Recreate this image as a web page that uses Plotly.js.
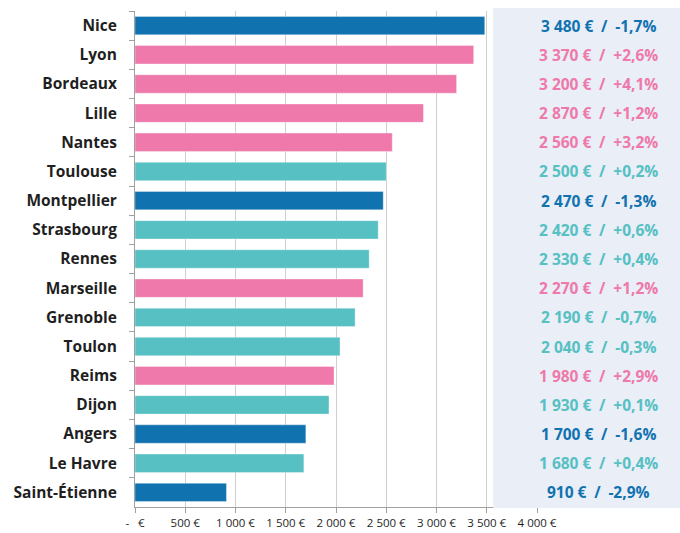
<!DOCTYPE html>
<html><head><meta charset="utf-8">
<script src="https://cdn.plot.ly/plotly-3.0.1.min.js"></script>
<style>html,body{margin:0;padding:0;background:#fff;}#chart{width:680px;height:533px;}</style>
</head><body><div id="chart"></div>
<script>
const cities = ["Nice","Lyon","Bordeaux","Lille","Nantes","Toulouse","Montpellier","Strasbourg","Rennes","Marseille","Grenoble","Toulon","Reims","Dijon","Angers","Le Havre","Saint-Étienne"];
const prices = [3480,3370,3200,2870,2560,2500,2470,2420,2330,2270,2190,2040,1980,1930,1700,1680,910];
const changes = ["-1,7%","+2,6%","+4,1%","+1,2%","+3,2%","+0,2%","-1,3%","+0,6%","+0,4%","+1,2%","-0,7%","-0,3%","+2,9%","+0,1%","-1,6%","+0,4%","-2,9%"];
const priceLabels = ["3 480 €","3 370 €","3 200 €","2 870 €","2 560 €","2 500 €","2 470 €","2 420 €","2 330 €","2 270 €","2 190 €","2 040 €","1 980 €","1 930 €","1 700 €","1 680 €","910 €"];
const groups = ["down","up","up","up","up","flat","down","flat","flat","up","flat","flat","up","flat","down","flat","down"];
const tickVals = [0,500,1000,1500,2000,2500,3000,3500,4000];
const tickText = ["-\u00a0\u00a0\u00a0€","500 €","1 000 €","1 500 €","2 000 €","2 500 €","3 000 €","3 500 €","4 000 €"];

const palette = {down:"#1172b0", up:"#ee79aa", flat:"#56c0c3"};
const colors = groups.map(g => palette[g]);

const trace = {
  type:"bar", orientation:"h", x:prices, y:cities,
  marker:{color:colors, line:{color:"rgba(255,255,255,0.35)", width:1}},
  hoverinfo:"none"
};

const annotations = cities.map((c,i)=>({
  xref:"paper", yref:"y", x:1.152, y:c, xanchor:"center", yanchor:"middle",
  text: priceLabels[i] + "\u2002/\u2002" + changes[i], showarrow:false,
  font:{family:"'Open Sans', sans-serif", size:15.5, color:colors[i], weight:"bold"}
}));

const layout = {
  width:680, height:533,
  margin:{l:135, r:143, t:11, b:26},
  paper_bgcolor:"#ffffff", plot_bgcolor:"#ffffff",
  showlegend:false, bargap:0.37,
  font:{family:"'Open Sans', sans-serif", color:"#1f1f1f"},
  xaxis:{range:[0,4000], tickvals:tickVals, ticktext:tickText, showgrid:true, gridcolor:"#cfcfcf", gridwidth:1,
    showline:true, linecolor:"#a0a0a0", ticks:"outside", ticklen:5, tickcolor:"#a0a0a0",
    tickfont:{size:11.5, color:"#1f1f1f"}, zeroline:false, fixedrange:true},
  yaxis:{autorange:"reversed", type:"category", showline:true, linecolor:"#a0a0a0", ticks:"outside", ticklen:5,
    tickcolor:"#a0a0a0", tickson:"boundaries", showgrid:false, ticklabelstandoff:14,
    tickfont:{size:15.5, color:"#1f1f1f", weight:"bold"}, fixedrange:true},
  shapes:[{type:"rect", xref:"paper", yref:"paper", x0:0.891, x1:1.36, y0:-0.002, y1:1.006,
    fillcolor:"#e9eef7", line:{width:0}, layer:"above"}],
  annotations:annotations
};

Plotly.newPlot("chart",[trace],layout,{displayModeBar:false, staticPlot:true});
</script></body></html>
